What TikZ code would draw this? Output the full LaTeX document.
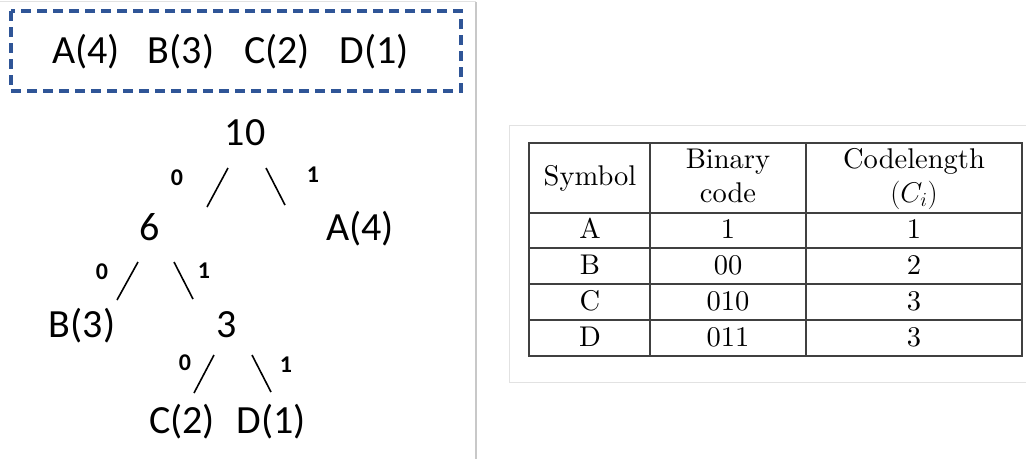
\RequirePackage{fix-cm}
\documentclass[tikz,border=0pt]{standalone}
\usepackage{fontspec}
\newfontfamily\calib{Carlito}
\newfontfamily\lmten[Extension=.otf]{lmroman10-regular}
\definecolor{boxblue}{RGB}{47,85,151}
\definecolor{rulegray}{RGB}{64,64,64}
\definecolor{panelgray}{RGB}{200,200,200}
\definecolor{framegray}{RGB}{226,226,226}
\tikzset{
  sym/.style={font=\calib\fontsize{40}{44}\selectfont, anchor=base, inner sep=0pt},
  bit/.style={font=\calib\bfseries\fontsize{24}{28}\selectfont, anchor=base, inner sep=0pt},
  branch/.style={line width=1.6pt, black},
  cell/.style={font=\lmten\fontsize{28.5}{32}\selectfont, anchor=base, inner sep=0pt},
  tabrule/.style={line width=1.2pt, rulegray},
}
\begin{document}
\begin{tikzpicture}[x=1pt,y=-1pt]
\useasboundingbox (0,0) rectangle (1026,459);
\fill[white] (0,0) rectangle (1026,459);

% panel separators
\draw[panelgray, line width=1.2pt] (476,2) -- (476,459);
\draw[framegray, line width=0.8pt] (0,1) -- (476,1);

% symbol set with weights
\draw[boxblue, line width=3.2pt, dash pattern=on 10pt off 6pt] (11,11) rectangle (461,91);
\node[sym] (sa) at (86,63) {A(4)};
\node[sym] (sb) at (181,63) {B(3)};
\node[sym] (sc) at (277,63) {C(2)};
\node[sym] (sd) at (374,63) {D(1)};

% Huffman tree nodes
\node[sym] (n10) at (245,145) {10};
\node[sym] (n6)  at (150,240) {6};
\node[sym] (la)  at (360,240) {A(4)};
\node[sym] (lb)  at (82,337) {B(3)};
\node[sym] (n3)  at (227,337) {3};
\node[sym] (lc)  at (182,433) {C(2)};
\node[sym] (ld)  at (271,433) {D(1)};

% branch end points
\coordinate (e1a) at (228,168); \coordinate (e1b) at (207,207);
\coordinate (e2a) at (266,168); \coordinate (e2b) at (285,205);
\coordinate (e3a) at (138,262); \coordinate (e3b) at (117,300);
\coordinate (e4a) at (174,262); \coordinate (e4b) at (193,299);
\coordinate (e5a) at (214,355); \coordinate (e5b) at (194,393);
\coordinate (e6a) at (252,355); \coordinate (e6b) at (271,392);
\draw[branch] (e1a) -- (e1b);
\draw[branch] (e2a) -- (e2b);
\draw[branch] (e3a) -- (e3b);
\draw[branch] (e4a) -- (e4b);
\draw[branch] (e5a) -- (e5b);
\draw[branch] (e6a) -- (e6b);

% branch bits
\node[bit] (b1) at (177,185) {0};
\node[bit] (b2) at (313,182) {1};
\node[bit] (b3) at (102,279) {0};
\node[bit] (b4) at (204,278) {1};
\node[bit] (b5) at (185,370) {0};
\node[bit] (b6) at (286,372) {1};

% code table frame
\draw[framegray, line width=1pt] (1030,125) -- (509,125) -- (509,382) -- (1030,382);

% code table rules
\draw[tabrule] (529,143) rectangle (1022,356);
\draw[tabrule] (650,143) -- (650,356);
\draw[tabrule] (806,143) -- (806,356);
\draw[tabrule] (529,213) -- (1022,213);
\draw[tabrule] (529,248) -- (1022,248);
\draw[tabrule] (529,284) -- (1022,284);
\draw[tabrule] (529,320) -- (1022,320);

% header
\node[cell] (hs)  at (590,185) {Symbol};
\node[cell] (hb1) at (728,168) {Binary};
\node[cell] (hb2) at (728,202) {code};
\node[cell] (hc1) at (914,168) {Codelength};
\node[cell] (hc2) at (914,202) {$(C_i)$};

% rows
\node[cell] (r1s) at (590,238) {A};
\node[cell] (r1b) at (728,238) {1};
\node[cell] (r1c) at (914,238) {1};
\node[cell] (r2s) at (590,274) {B};
\node[cell] (r2b) at (728,274) {00};
\node[cell] (r2c) at (914,274) {2};
\node[cell] (r3s) at (590,310) {C};
\node[cell] (r3b) at (728,310) {010};
\node[cell] (r3c) at (914,310) {3};
\node[cell] (r4s) at (590,346) {D};
\node[cell] (r4b) at (728,346) {011};
\node[cell] (r4c) at (914,346) {3};
\end{tikzpicture}
\end{document}
